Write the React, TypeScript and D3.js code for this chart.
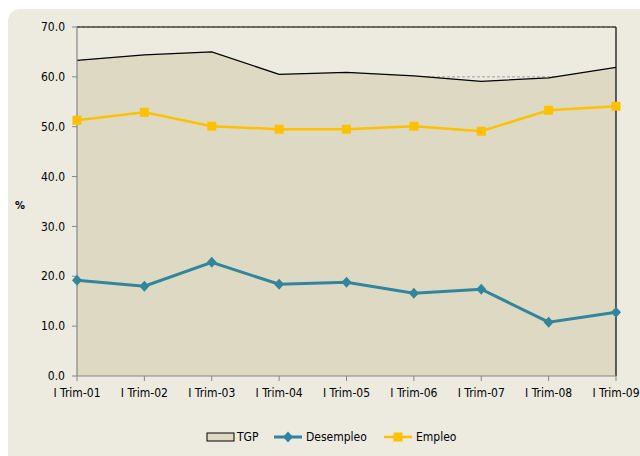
import React from "react";
import * as d3 from "d3";

const categories = ["I Trim-01","I Trim-02","I Trim-03","I Trim-04","I Trim-05","I Trim-06","I Trim-07","I Trim-08","I Trim-09"];
const tgp = [63.3, 64.4, 65.0, 60.5, 60.9, 60.2, 59.1, 59.8, 61.9];
const desempleo = [19.2, 18.0, 22.8, 18.4, 18.8, 16.6, 17.4, 10.8, 12.8];
const empleo = [51.3, 52.9, 50.1, 49.5, 49.5, 50.1, 49.1, 53.3, 54.1];
const yTicks = [0, 10, 20, 30, 40, 50, 60, 70];

const W = 640, H = 456;
const font = "'DejaVu Sans Condensed', 'DejaVu Sans', sans-serif";
const diamond = "M0,-5.5L5,0L0,5.5L-5,0Z";

export default function App() {
  const x = d3.scalePoint<string>().domain(categories).range([77, 616]);
  const y = d3.scaleLinear().domain([0, 70]).range([376, 27]);
  const area = d3.area<number>().x((_, i) => x(categories[i])!).y0(y(0)).y1(d => y(d));
  const line = d3.line<number>().x((_, i) => x(categories[i])!).y(d => y(d));
  return (
    <svg width={W} height={H} style={{ position: "absolute", left: 0, top: 0, display: "block" }}>
      <rect x={0} y={0} width={W} height={H} fill="#ffffff" />
      <rect x={8} y={9} width={W + 20} height={H + 20} rx={12} fill="#EDEBE0" />
      {yTicks.filter(t => t > 0).map(t => (
        <line key={t} x1={77} x2={616} y1={y(t)} y2={y(t)} stroke="#8a8a8a" strokeWidth={0.8} strokeDasharray="3,2" />
      ))}
      <path d={area(tgp)!} fill="#DDD9C3" />
      <path d={line(tgp)!} fill="none" stroke="#000" strokeWidth={1.2} />
      <line x1={77} x2={616} y1={27} y2={27} stroke="#000" strokeWidth={1.2} />
      <line x1={616} x2={616} y1={27} y2={376} stroke="#000" strokeWidth={1.2} />
      <line x1={77} x2={77} y1={27} y2={376} stroke="#868686" strokeWidth={1.2} />
      <line x1={77} x2={616} y1={376} y2={376} stroke="#868686" strokeWidth={1.2} />
      {yTicks.map(t => (
        <g key={t}>
          <line x1={72} x2={77} y1={y(t)} y2={y(t)} stroke="#868686" />
          <text x={65} y={y(t)} dy="0.35em" textAnchor="end" fontFamily={font} fontSize={12} fill="#000">{t.toFixed(1)}</text>
        </g>
      ))}
      {categories.map(c => (
        <g key={c}>
          <line x1={x(c)!} x2={x(c)!} y1={376} y2={381} stroke="#868686" />
          <text x={x(c)!} y={397} textAnchor="middle" fontFamily={font} fontSize={12} fill="#000">{c}</text>
        </g>
      ))}
      <text x={20} y={209} textAnchor="middle" fontFamily={font} fontSize={11} fontWeight="bold">%</text>
      <path d={line(empleo)!} fill="none" stroke="#FFC000" strokeWidth={2.5} />
      {empleo.map((v, i) => (
        <rect key={i} x={x(categories[i])! - 4.5} y={y(v) - 4.5} width={9} height={9} fill="#FFC000" />
      ))}
      <path d={line(desempleo)!} fill="none" stroke="#31859C" strokeWidth={3} />
      {desempleo.map((v, i) => (
        <path key={i} d={diamond} transform={`translate(${x(categories[i])},${y(v)})`} fill="#31859C" />
      ))}
      <rect x={207} y={433} width={27} height={8} fill="#DDD9C3" stroke="#000" strokeWidth={1} />
      <text x={237} y={441} fontFamily={font} fontSize={12}>TGP</text>
      <line x1={274} x2={302} y1={437} y2={437} stroke="#31859C" strokeWidth={3} />
      <path d={diamond} transform="translate(288,437)" fill="#31859C" />
      <text x={306} y={441} fontFamily={font} fontSize={12}>Desempleo</text>
      <line x1={384} x2={412} y1={437} y2={437} stroke="#FFC000" strokeWidth={2.5} />
      <rect x={393.5} y={432.5} width={9} height={9} fill="#FFC000" />
      <text x={416} y={441} fontFamily={font} fontSize={12}>Empleo</text>
    </svg>
  );
}
